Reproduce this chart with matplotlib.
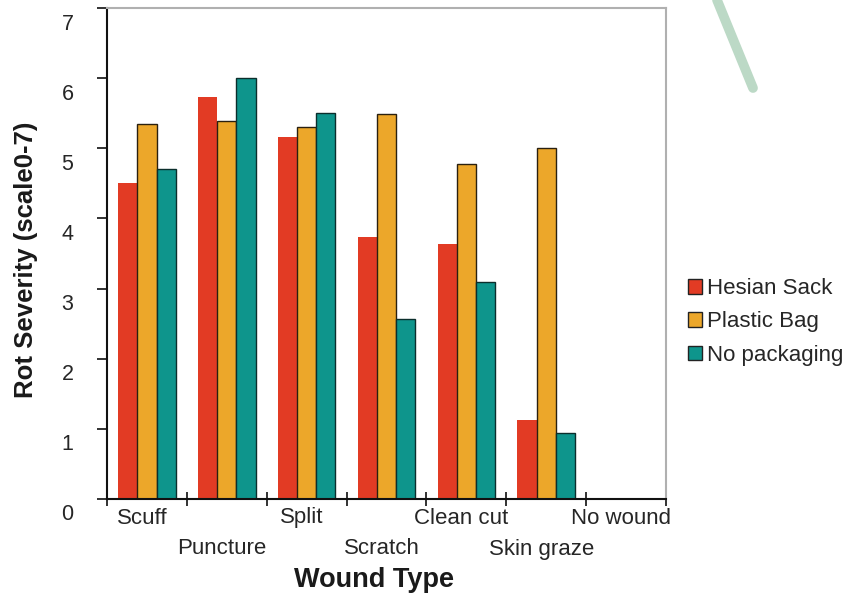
import matplotlib
matplotlib.use("Agg")
import matplotlib.pyplot as plt
from matplotlib.patches import Patch
from matplotlib.transforms import ScaledTranslation
import numpy as np

plt.rcParams['font.family'] = ['Liberation Sans', 'DejaVu Sans']

wound_types = ["Scuff", "Puncture", "Split", "Scratch", "Clean cut", "Skin graze", "No wound"]
hesian_sack = [4.51, 5.73, 5.16, 3.74, 3.63, 1.13, np.nan]
plastic_bag = [5.34, 5.39, 5.30, 5.49, 4.77, 5.00, np.nan]
no_packaging = [4.70, 6.00, 5.51, 2.56, 3.09, 0.94, np.nan]
series_names = ["Hesian Sack", "Plastic Bag", "No packaging"]
y_ticks = [0, 1, 2, 3, 4, 5, 6, 7]

colors = ["#e23b24", "#eca72a", "#0e958c"]
edges = ["none", "#2a2010", "#0b2e2c"]
text_col = "#262626"

fig = plt.figure(figsize=(8.64, 5.94), dpi=100)
ax = fig.add_axes([107 / 864, 1 - 499 / 594, (666 - 107) / 864, (499 - 8) / 594])

x = np.arange(len(wound_types)) + 0.5
w = 0.24
for k, (vals, c, e) in enumerate(zip([hesian_sack, plastic_bag, no_packaging], colors, edges)):
    ax.bar(x + (k - 1) * w, vals, width=w, color=c, edgecolor=e,
           linewidth=1.0 if e != "none" else 0, zorder=2)

ax.set_xlim(0, len(wound_types))
ax.set_ylim(0, 7)

# spines
for s in ["top", "right"]:
    ax.spines[s].set_color("#b0b0b0")
    ax.spines[s].set_linewidth(1.5)
for s in ["left", "bottom"]:
    ax.spines[s].set_color("#111111")
    ax.spines[s].set_linewidth(1.5)

# ticks: marks only, labels drawn as offset text
ax.set_xticks(np.arange(len(wound_types) + 1))
ax.set_yticks(y_ticks)
ax.tick_params(axis="x", direction="inout", length=10, width=1.3, color="#222222",
               labelbottom=False)
ax.tick_params(axis="y", direction="out", length=7, width=1.3, color="#222222",
               labelleft=False)

ytr = ax.get_yaxis_transform() + ScaledTranslation(0, -16 / 100, fig.dpi_scale_trans)
for v in y_ticks:
    ax.text(-0.06, v, str(v), transform=ytr, ha="right", va="center",
            fontsize=15.5, color=text_col)

xtr = ax.get_xaxis_transform()
for i, name in enumerate(wound_types):
    dy = -19 if i % 2 == 0 else -50
    off = ScaledTranslation(-5 / 100, dy / 100, fig.dpi_scale_trans)
    ax.text(x[i], 0, name, transform=xtr + off, ha="center", va="center",
            fontsize=16, color=text_col)

fig.text(374 / 864, 1 - 580 / 594, "Wound Type", ha="center", va="center",
         fontsize=19.5, fontweight="bold", color="#1a1a1a")
fig.text(26 / 864, 1 - 260 / 594, "Rot Severity (scale0-7)", ha="center", va="center",
         rotation=90, fontsize=18.5, fontweight="bold", color="#1a1a1a")

handles = [Patch(facecolor=c, edgecolor="#222222", linewidth=1.0) for c in colors]
leg = fig.legend(handles, series_names, loc="center left",
                 bbox_to_anchor=(679 / 864, 1 - 322 / 594), frameon=False,
                 fontsize=16, handlelength=0.65, handleheight=0.65,
                 handletextpad=0.2, labelspacing=0.55, borderaxespad=0)
for t in leg.get_texts():
    t.set_color(text_col)

# faint watermark stroke in the upper right corner
wm = "#bcd9c6"
fig.add_artist(plt.Line2D([717 / 864, 753 / 864], [1.0, 1 - 88 / 594],
                          transform=fig.transFigure, color=wm, linewidth=7,
                          solid_capstyle="round"))

fig.savefig("out.png", dpi=100)
